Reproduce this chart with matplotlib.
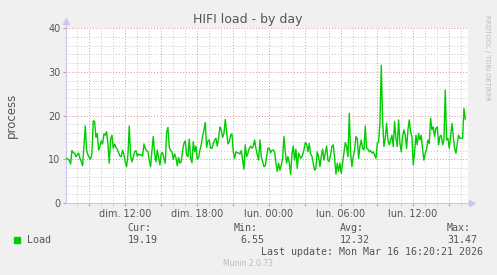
import matplotlib
matplotlib.use("Agg")
import matplotlib.pyplot as plt
import matplotlib.dates as mdates
import pandas as pd
import numpy as np

title = "HIFI load - by day"
ylabel = "process"
series_name = "Load"
start_time = "2026-03-15 07:08:00"
sample_seconds = 400
x_start = "2026-03-15 07:05:00"
x_end = "2026-03-16 16:35:00"
day_names = {6: "dim.", 0: "lun.", 1: "mar.", 2: "mer.", 3: "jeu.", 4: "ven.", 5: "sam."}
y_ticks = [0, 10, 20, 30, 40]
stats_labels = ["Cur:", "Min:", "Avg:", "Max:"]
stats_values = ["19.19", "6.55", "12.32", "31.47"]
last_update = "Last update: Mon Mar 16 16:20:21 2026"
footer = "Munin 2.0.73"
watermark = "RRDTOOL / TOBI OETIKER"

load_part1 = [
    10.2, 10.0, 9.8, 8.9, 12.0, 11.5, 11.4, 10.6, 11.0, 11.4, 10.2, 9.5, 8.5, 13.0, 17.6, 12.0,
    11.0, 10.4, 10.0, 11.4, 18.8, 18.6, 15.0, 15.9, 12.1, 12.9, 14.2, 13.5, 15.8, 15.5, 16.3, 13.5,
    9.1, 14.6, 15.5, 12.5, 13.5, 12.7, 12.3, 11.5, 10.7, 10.6, 12.1, 11.0, 9.4, 8.3, 11.0, 17.6,
    10.7, 9.4, 10.6, 11.7, 12.0, 10.7, 11.2, 11.0, 11.0, 10.7, 13.5, 12.5, 12.0, 11.7, 9.8, 8.3,
    12.0, 15.2, 11.2, 9.4, 12.1, 10.4, 8.7, 11.4, 11.5, 10.2, 9.1, 16.1, 17.3, 12.7, 12.0, 11.7,
    10.0, 11.2, 10.4, 8.5, 10.4, 9.1, 9.5, 12.0, 13.6, 14.2, 11.0, 10.6, 14.6, 10.4, 9.2, 14.0,
    11.7, 13.0, 10.0, 10.4, 12.1, 13.3, 15.3, 16.7, 18.4, 12.7, 14.2, 14.4, 12.5, 12.5, 13.5, 14.4,
    14.8, 13.0, 14.8, 17.4, 16.7, 15.0, 15.9, 19.1, 16.3, 13.5, 14.0, 15.5, 15.8, 11.7, 10.2, 11.7,
    11.5, 11.4, 11.2, 12.0, 9.8, 7.7, 13.3, 10.6, 11.4, 12.5, 13.0, 12.5, 12.9, 14.4, 12.5, 11.0,
    9.8, 14.4, 10.6, 9.4, 8.3, 8.5, 10.6, 12.5,
]
load_part2 = [
    12.5, 11.5, 12.0, 12.1, 11.7, 9.1, 7.2, 9.1, 7.5, 8.7, 10.2, 15.2, 11.7, 9.1, 10.6, 9.2,
    6.55, 11.0, 13.0, 9.8, 12.3, 7.9, 11.4, 10.6, 10.2, 11.0, 12.1, 13.8, 13.5, 11.7, 13.6, 11.2,
    10.7, 9.1, 7.5, 7.9, 11.7, 10.6, 8.3, 10.6, 12.3, 9.8, 11.4, 13.0, 9.8, 9.5, 11.0, 12.9,
    13.3, 10.2, 6.6, 9.1, 7.2, 9.1, 6.8, 9.2, 11.4, 13.8, 12.9, 10.6, 20.5, 11.4, 8.3, 10.6,
    12.1, 15.2, 14.8, 10.2, 12.9, 14.4, 12.5, 12.1, 17.6, 12.5, 12.3, 11.7, 12.0, 11.4, 11.7, 11.0,
    10.2, 13.6, 14.0, 18.2, 31.47, 19.0, 12.9, 14.8, 18.2, 14.4, 13.3, 14.4, 15.5, 12.9, 18.6, 14.8,
    12.9, 19.0, 13.6, 11.7, 15.2, 16.7, 15.5, 12.5, 16.7, 19.0, 16.3, 15.2, 8.7, 11.7, 15.5, 13.3,
    15.9, 14.4, 15.5, 12.1, 9.8, 11.4, 12.3, 14.4, 13.6, 19.4, 16.7, 17.4, 15.2, 17.1, 17.4, 13.3,
    15.2, 15.5, 13.3, 14.4, 25.8, 14.4, 14.8, 12.5, 15.2, 18.2, 15.2, 12.5, 11.4, 13.6, 15.5, 14.8,
    14.8, 14.8, 21.6, 19.19,
]
load_values = load_part1 + load_part2

bg = "#F0F0F0"
text_col = "#555555"
green = "#00CC00"
axis_col = "#C8C8F0"

W, H = 497, 275
fig = plt.figure(figsize=(W / 100, H / 100), dpi=100, facecolor=bg)
ax = fig.add_axes([66 / W, 1 - 203 / H, (468 - 66) / W, (203 - 28) / H])
ax.set_facecolor("white")

times = pd.date_range(start=start_time, periods=len(load_values), freq=f"{sample_seconds}s")
ax.plot(times, load_values, color=green, linewidth=1.0, zorder=3)

ax.set_xlim(pd.Timestamp(x_start), pd.Timestamp(x_end))
ax.set_ylim(0, 40)

ax.yaxis.set_major_locator(matplotlib.ticker.FixedLocator(y_ticks))
ax.yaxis.set_minor_locator(matplotlib.ticker.MultipleLocator(2))
ax.xaxis.set_major_locator(mdates.HourLocator(byhour=range(0, 24, 3)))
ax.xaxis.set_minor_locator(mdates.HourLocator())

def fmt(x, pos=None):
    d = mdates.num2date(x)
    if d.hour % 6 == 0:
        return f"{day_names[d.weekday()]} {d.hour:02d}:00"
    return ""

ax.xaxis.set_major_formatter(matplotlib.ticker.FuncFormatter(fmt))

ax.grid(which="minor", color="#C8C8C8", linestyle=(0, (1, 2)), linewidth=0.7, zorder=1)
ax.grid(which="major", color="#E09090", linestyle=(0, (1, 2)), linewidth=0.7, zorder=2)
ax.set_axisbelow(True)

for s in ["top", "right"]:
    ax.spines[s].set_visible(False)
for s in ["left", "bottom"]:
    ax.spines[s].set_color(axis_col)
    ax.spines[s].set_linewidth(0.8)

ax.tick_params(axis="both", which="both", labelsize=7, labelcolor=text_col)
ax.tick_params(axis="y", which="major", length=2, color="#E09090", pad=2)
ax.tick_params(axis="y", which="minor", length=0)
ax.tick_params(axis="x", which="major", length=2, color="#E09090", pad=2.5)
ax.tick_params(axis="x", which="minor", length=1.5, color="#C0C0C0")

# axis arrows
ax.plot([0], [1.04], marker="^", color=axis_col, markersize=4, transform=ax.transAxes, clip_on=False)
ax.plot([0, 0], [1.0, 1.04], color=axis_col, linewidth=0.8, transform=ax.transAxes, clip_on=False)
ax.plot([1.0, 1.01], [0, 0], color=axis_col, linewidth=0.8, transform=ax.transAxes, clip_on=False)
ax.plot([1.01], [0], marker=">", color=axis_col, markersize=4, transform=ax.transAxes, clip_on=False)

fig.text(11 / W, 1 - 115 / H, ylabel, rotation=90, ha="center", va="center", fontsize=8.5, color=text_col)
fig.text(248 / W, 1 - 19 / H, title, ha="center", va="center", fontsize=9, color=text_col)
fig.text(487 / W, 1 - 15 / H, watermark, rotation=270, ha="center", va="top", fontsize=4.9, color="#BBBBBB")

mono = "DejaVu Sans Mono"
fs = 7.2
col_x = [127.5, 233.5, 340, 447]
val_x = [127.5, 240, 340, 447]
for lab, xv in zip(stats_labels, col_x):
    fig.text(xv / W, 1 - 228 / H, lab, ha="left", va="center", family=mono, fontsize=fs, color=text_col)
for v, xv in zip(stats_values, val_x):
    fig.text(xv / W, 1 - 240 / H, v, ha="left", va="center", family=mono, fontsize=fs, color=text_col)
fig.patches.append(matplotlib.patches.Rectangle((14 / W, 1 - 242.5 / H), 5.5 / W, 5.5 / H,
                                                transform=fig.transFigure, color=green))
fig.text(26.5 / W, 1 - 240 / H, series_name, ha="left", va="center", family=mono, fontsize=fs, color=text_col)
fig.text(483 / W, 1 - 252 / H, last_update, ha="right", va="center", family=mono, fontsize=fs, color=text_col)
fig.text(248 / W, 1 - 264 / H, footer, ha="center", va="center", fontsize=5.5, color="#BBBBBB")

fig.savefig("out.png", dpi=100, facecolor=bg)
